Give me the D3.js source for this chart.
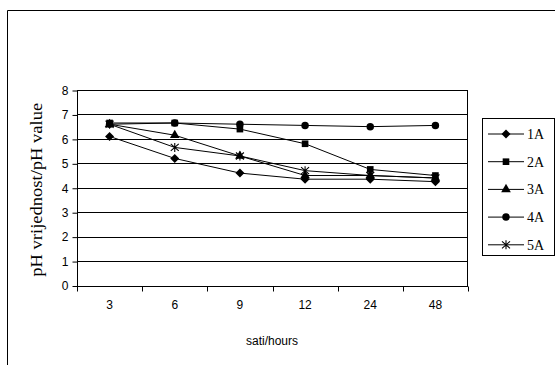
<!DOCTYPE html>
<html>
<head>
<meta charset="utf-8">
<script src="https://cdn.jsdelivr.net/npm/d3@7"></script>
<style>
  html, body { margin: 0; padding: 0; background: #fff; }
  svg { display: block; }
</style>
</head>
<body>
<script>
// Sampling times (hours) and pH readings per sample
const hours = ["3", "6", "9", "12", "24", "48"];
const yTicks = [0, 1, 2, 3, 4, 5, 6, 7, 8];
const seriesNames = ["1A", "2A", "3A", "4A", "5A"];
const ph1A = [6.1, 5.2, 4.6, 4.35, 4.35, 4.25];
const ph2A = [6.65, 6.65, 6.4, 5.8, 4.75, 4.5];
const ph3A = [6.6, 6.15, 5.3, 4.5, 4.5, 4.4];
const ph4A = [6.6, 6.65, 6.6, 6.55, 6.5, 6.55];
const ph5A = [6.6, 5.65, 5.3, 4.7, 4.5, 4.4];
const seriesValues = [ph1A, ph2A, ph3A, ph4A, ph5A];
const markerKinds = ["diamond", "square", "triangle", "circle", "star"];

const W = 555, H = 365;
const plot = { left: 77, top: 90, right: 468, bottom: 285.5 };

const svg = d3.select("body").append("svg").attr("width", W).attr("height", H);

// outer chart frame (right and bottom edges fall outside the view)
svg.append("path")
  .attr("d", `M7.5,${H + 2} V10.5 H${W + 2}`)
  .attr("fill", "none").attr("stroke", "#000").attr("stroke-width", 1);

const x = d3.scaleBand().domain(hours).range([plot.left, plot.right]);
const y = d3.scaleLinear().domain([0, 8]).range([plot.bottom, plot.top]);

// horizontal gridlines
svg.append("g").selectAll("line").data(yTicks.filter(t => t > 0)).join("line")
  .attr("x1", plot.left).attr("x2", plot.right)
  .attr("y1", d => Math.round(y(d)) + 0.5).attr("y2", d => Math.round(y(d)) + 0.5)
  .attr("stroke", "#000").attr("stroke-width", 1);

// plot area border
svg.append("rect")
  .attr("x", plot.left + 0.5).attr("y", Math.round(plot.top) + 0.5)
  .attr("width", plot.right - plot.left - 1).attr("height", Math.round(plot.bottom) - Math.round(plot.top))
  .attr("fill", "none").attr("stroke", "#000").attr("stroke-width", 1);

// y axis
const yAxis = d3.axisLeft(y).tickValues(yTicks).tickSize(5).tickPadding(4).tickFormat(d3.format("d"));
const gy = svg.append("g").attr("transform", `translate(${plot.left + 0.5},0.5)`).call(yAxis);
gy.select(".domain").remove();
gy.selectAll("line").attr("stroke", "#000");
gy.selectAll("text").attr("font-family", "Liberation Sans, Arial, sans-serif")
  .attr("font-size", 12).attr("fill", "#000");

// x axis: ticks sit on category boundaries, labels at category centres
const gx = svg.append("g").attr("transform", `translate(0,${Math.round(plot.bottom) + 0.5})`);
const boundaries = hours.map(h => x(h)).concat([plot.right]);
gx.selectAll("line").data(boundaries).join("line")
  .attr("x1", d => Math.round(d) + 0.5).attr("x2", d => Math.round(d) + 0.5)
  .attr("y1", 0).attr("y2", 5).attr("stroke", "#000");
gx.selectAll("text").data(hours).join("text")
  .attr("x", d => x(d) + x.bandwidth() / 2).attr("y", 22)
  .attr("text-anchor", "middle")
  .attr("font-family", "Liberation Sans, Arial, sans-serif").attr("font-size", 12)
  .text(d => d);

// axis titles
svg.append("text")
  .attr("x", 272).attr("y", 345)
  .attr("text-anchor", "middle")
  .attr("font-family", "Liberation Sans, Arial, sans-serif").attr("font-size", 12)
  .text("sati/hours");

svg.append("text")
  .attr("transform", `translate(42,${(plot.top + plot.bottom) / 2 + 2}) rotate(-90)`)
  .attr("text-anchor", "middle")
  .attr("font-family", "Liberation Serif, 'Times New Roman', serif").attr("font-size", 16)
  .attr("textLength", 174).attr("lengthAdjust", "spacingAndGlyphs")
  .text("pH vrijednost/pH value");

// marker shapes
const diamondPath = "M0,-4.5L4.5,0L0,4.5L-4.5,0Z";
const starPath = "M0,-4.5V4.5M-4,-3.5L4,3.5M4,-3.5L-4,3.5";
const symbolFor = {
  square: d3.symbol().type(d3.symbolSquare).size(44),
  triangle: d3.symbol().type(d3.symbolTriangle).size(40),
  circle: d3.symbol().type(d3.symbolCircle).size(44)
};
function drawMarker(g, kind) {
  if (kind === "star") {
    g.append("path").attr("d", starPath).attr("fill", "none")
      .attr("stroke", "#000").attr("stroke-width", 1.1);
  } else if (kind === "diamond") {
    g.append("path").attr("d", diamondPath).attr("fill", "#000");
  } else {
    g.append("path").attr("d", symbolFor[kind]()).attr("fill", "#000");
  }
}

const cx = h => x(h) + x.bandwidth() / 2;
const line = d3.line().x((d, i) => cx(hours[i])).y(d => y(d));

seriesValues.forEach((vals, s) => {
  const g = svg.append("g");
  g.append("path").datum(vals).attr("d", line)
    .attr("fill", "none").attr("stroke", "#000").attr("stroke-width", 1);
  vals.forEach((v, i) => {
    const m = g.append("g").attr("transform", `translate(${cx(hours[i])},${y(v)})`);
    drawMarker(m, markerKinds[s]);
  });
});

// legend
const leg = svg.append("g");
leg.append("rect").attr("x", 482.5).attr("y", 118.5).attr("width", 72).attr("height", 137)
  .attr("fill", "#fff").attr("stroke", "#000").attr("stroke-width", 1);
seriesNames.forEach((name, s) => {
  const yy = 134 + s * 27.7;
  leg.append("line").attr("x1", 488).attr("x2", 524).attr("y1", yy).attr("y2", yy)
    .attr("stroke", "#000").attr("stroke-width", 1);
  const m = leg.append("g").attr("transform", `translate(506,${yy})`);
  drawMarker(m, markerKinds[s]);
  leg.append("text").attr("x", 527).attr("y", yy + 5)
    .attr("font-family", "Liberation Serif, 'Times New Roman', serif").attr("font-size", 14)
    .text(name);
});
</script>
</body>
</html>
